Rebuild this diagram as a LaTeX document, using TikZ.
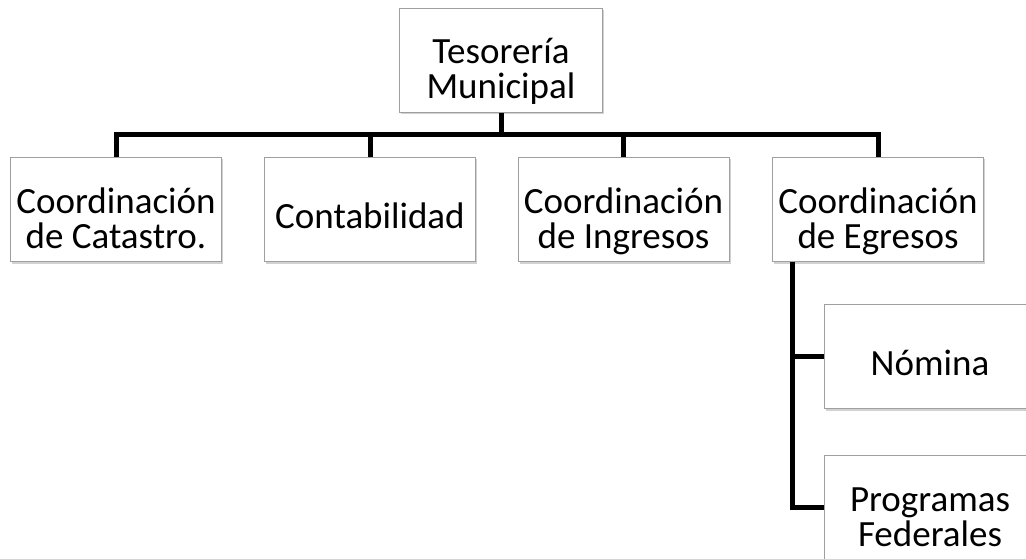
\documentclass[tikz,border=0pt]{standalone}
\usepackage{fontspec}
\setmainfont{Carlito}
\usepackage{tikz}
\usetikzlibrary{shadows}

\begin{document}
\begin{tikzpicture}[x=1pt, y=-1pt,
    box/.style={draw=gray!75, line width=0.8pt, fill=white, align=center,
        minimum width=211pt, minimum height=104pt, inner sep=0pt,
        font=\fontsize{37}{35}\selectfont,
        execute at begin node={\rule{0pt}{47pt}},
        execute at end node={\rule[-10pt]{0pt}{0pt}},
        drop shadow={shadow xshift=1.5pt, shadow yshift=-2pt, opacity=0.35}},
    box2/.style={box, execute at begin node={\rule{0pt}{87pt}}},
    conn/.style={line width=5pt, black}]
    \useasboundingbox[fill=white] (0,0) rectangle (1026,559);
    \node[box2, minimum width=203pt] (tesoreria) at (501,60.5) {Tesorería\\Municipal};
    \node[box2] (catastro) at (116,209.5) {Coordinación\\de Catastro.};
    \node[box] (contabilidad) at (370,209.5) {Contabilidad};
    \node[box2] (ingresos) at (623.5,209.5) {Coordinación\\de Ingresos};
    \node[box2] (egresos) at (878,209.5) {Coordinación\\de Egresos};
    \node[box] (nomina) at (930,356.5) {Nómina};
    \node[box2] (programas) at (930,507.5) {Programas\\Federales};
    \coordinate (bar) at (0,135);
    \draw[conn] (tesoreria.south) -- (tesoreria.south |- bar);
    \draw[conn] (catastro.north) |- (bar -| egresos.north) -- (egresos.north);
    \draw[conn] (contabilidad.north) -- (contabilidad.north |- bar);
    \draw[conn] (ingresos.north) -- (ingresos.north |- bar);
    \draw[conn] ([xshift=20pt]egresos.south west) |- (nomina.west);
    \draw[conn] ([xshift=20pt]egresos.south west) |- (programas.west);
\end{tikzpicture}
\end{document}
